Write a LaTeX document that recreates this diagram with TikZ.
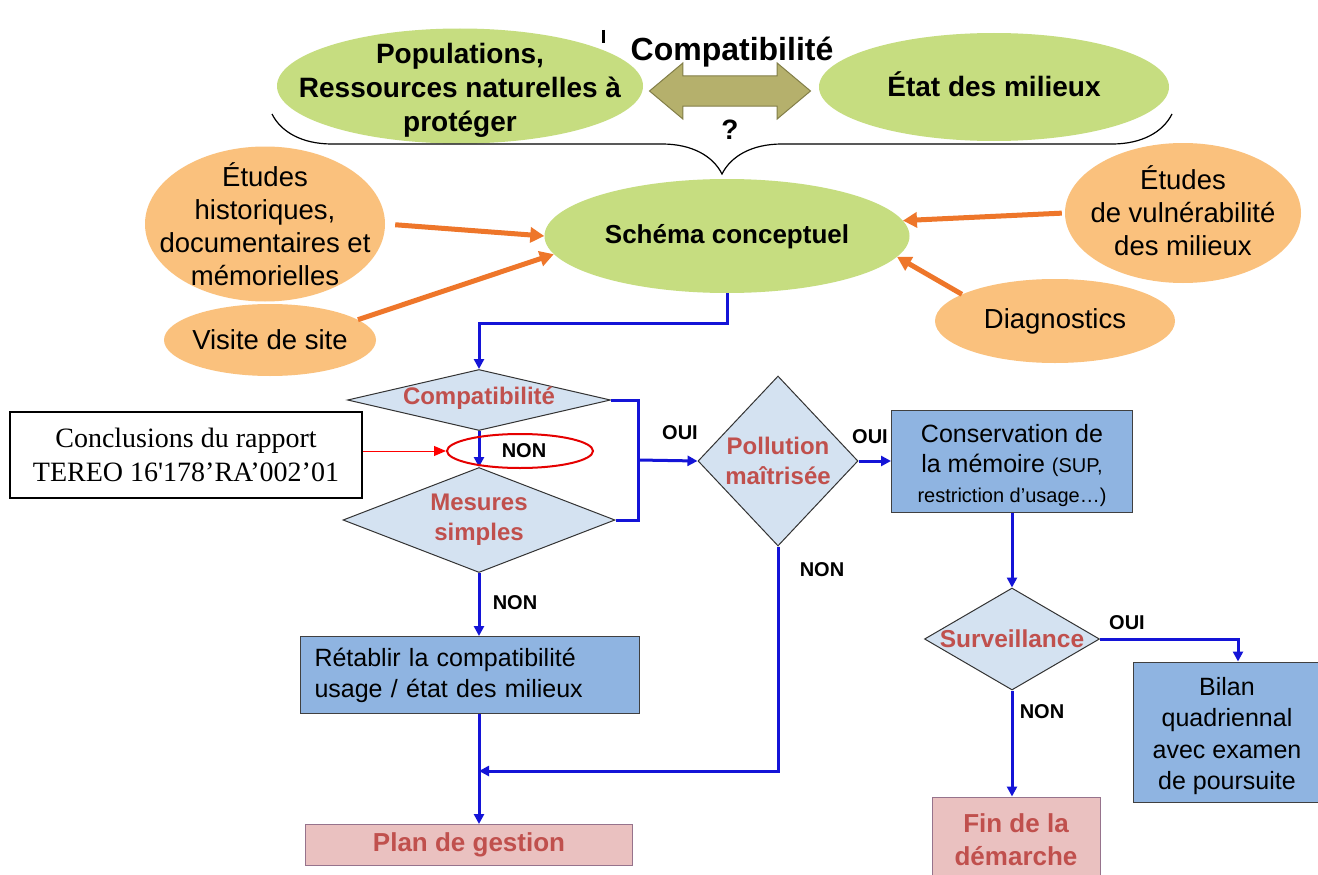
\documentclass[tikz,border=0pt]{standalone}
\usepackage{fontspec}
\setmainfont{Liberation Sans}
\newfontfamily\notefont{Liberation Serif}
\usetikzlibrary{shapes.geometric,shapes.arrows,arrows.meta,decorations.pathreplacing}

\definecolor{vertclair}{RGB}{198,221,128}
\definecolor{orangeclair}{RGB}{250,193,125}
\definecolor{orangefonce}{RGB}{238,118,42}
\definecolor{bleutrait}{RGB}{20,20,215}
\definecolor{bleuboite}{RGB}{143,180,225}
\definecolor{bleudiam}{RGB}{212,226,241}
\definecolor{roseboite}{RGB}{234,193,192}
\definecolor{bordrose}{RGB}{150,115,140}
\definecolor{rougetexte}{RGB}{192,80,77}
\definecolor{kaki}{RGB}{181,176,108}
\definecolor{kakifonce}{RGB}{130,126,72}

\begin{document}
\begin{tikzpicture}[x=1pt,y=-1pt,
  every node/.style={align=center, inner sep=0pt},
  vertell/.style={ellipse, fill=vertclair},
  vtexte/.style={font=\bfseries\fontsize{28}{34}\selectfont},
  orell/.style={ellipse, fill=orangeclair},
  otexte/.style={font=\fontsize{27.5}{33}\selectfont},
  decision/.style={diamond, draw=black!80, line width=1pt, fill=bleudiam},
  dtexte/.style={text=rougetexte, font=\bfseries\fontsize{24}{30}\selectfont},
  action/.style={rectangle, draw=black!75, line width=1pt, fill=bleuboite,
    font=\fontsize{25}{31}\selectfont},
  terme/.style={rectangle, draw=bordrose, line width=1pt, fill=roseboite,
    text=rougetexte, font=\bfseries\fontsize{26}{33}\selectfont},
  reponse/.style={font=\bfseries\fontsize{20}{24}\selectfont},
  flux/.style={draw=bleutrait, line width=3pt},
  fluxfl/.style={flux, -{Triangle[length=10pt,width=10pt]}},
  apport/.style={draw=orangefonce, line width=5pt, -{Triangle[length=14pt,width=15pt]}},
]
\path[fill=white, use as bounding box] (0,0) rectangle (1318,875);

% haut : compatibilite usages / milieux
\draw[line width=3pt] (603,30) -- (603,43);
\node[vertell, minimum width=366pt, minimum height=115pt] (popu) at (460,86) {};
\node[vtexte] (popu-t) at (460,90) {Populations,\\Ressources naturelles à\\protéger};
\node[vertell, minimum width=350pt, minimum height=108pt] (etat) at (994,87) {};
\node[vtexte] (etat-t) at (994,84) {État des milieux};
\node[double arrow, fill=kaki, draw=kakifonce, line width=1pt, inner ysep=14.5pt,
  minimum height=161pt, double arrow head extend=13pt,
  double arrow tip angle=80] (fleche) at (730,91) {};
\node[font=\bfseries\fontsize{32}{36}\selectfont] (compattxt) at (732,52) {Compatibilité};
\node[font=\bfseries\fontsize{28}{32}\selectfont] (question) at (730,130) {?};
\draw[line width=1.2pt, decorate, decoration={brace, amplitude=60pt, mirror}]
  (272,114) -- (1172,114);

% schema conceptuel et ses sources
\node[vertell, minimum width=365pt, minimum height=114pt] (schema) at (727,236) {};
\node[vtexte, font=\bfseries\fontsize{26}{30}\selectfont] (schema-t) at (727,237) {Schéma conceptuel};
\node[orell, minimum width=240pt, minimum height=155pt] (histo) at (265,224) {};
\node[otexte] (histo-t) at (histo) {Études\\historiques,\\documentaires et\\mémorielles};
\node[orell, minimum width=212pt, minimum height=72pt] (visite) at (270,340) {};
\node[otexte] (visite-t) at (visite) {Visite de site};
\node[orell, minimum width=236pt, minimum height=140pt] (vulner) at (1183,213) {};
\node[otexte] (vulner-t) at (1183,211) {Études\\de vulnérabilité\\des milieux};
\node[orell, minimum width=240pt, minimum height=84pt] (diag) at (1055,321) {};
\node[otexte] (diag-t) at (diag) {Diagnostics};

\draw[apport, shorten <=10pt] (histo.east) -- (schema.west);
\draw[apport] (visite.13) -- (schema.186);
\draw[apport, shorten <=3pt] (vulner.west) -- (schema.5);
\draw[apport] (diag.164) -- (schema.353);

% logigramme
\node[decision, minimum width=263pt, minimum height=61pt] (compat) at (479,400) {};
\node[dtexte] (compat-t) at (479,398) {Compatibilité};
\node[decision, minimum width=272pt, minimum height=105pt] (mesures) at (479,520) {};
\node[dtexte] (mesures-t) at (mesures) {Mesures\\simples};
\node[decision, minimum width=160pt, minimum height=170pt] (pollu) at (778,461) {};
\node[dtexte] (pollu-t) at (pollu) {Pollution\\maîtrisée};
\node[decision, minimum width=175pt, minimum height=102pt] (surv) at (1012,639) {};
\node[dtexte, font=\bfseries\fontsize{24.5}{30}\selectfont] (surv-t) at (surv) {Surveillance};
\node[action, minimum width=241pt, minimum height=102pt] (conserv) at (1012,461) {};
\node[font=\fontsize{25}{30}\selectfont] (conserv-t) at (1012,466)
  {Conservation de\\la mémoire {\fontsize{20}{24}\selectfont(SUP,}\\{\fontsize{20}{24}\selectfont restriction d’usage…)}};
\node[action, minimum width=185pt, minimum height=140pt] (bilan) at (1226,732) {};
\node[font=\fontsize{25}{31.5}\selectfont] (bilan-t) at (1227,736)
  {Bilan\\quadriennal\\avec examen\\de poursuite};
\node[terme, minimum width=168pt, minimum height=86pt] (findem) at (1016,840) {Fin de la\\démarche};
\node[action, minimum width=339pt, minimum height=77pt, text width=311pt, align=left]
  (retabl) at (470,675) {Rétablir la compatibilité\\usage / état des milieux};
\node[terme, minimum width=327pt, minimum height=41pt] (plan) at (469,845) {Plan de gestion};

\coordinate (oui1) at (638,460);
\coordinate (retour) at (479,771);

\draw[fluxfl] (schema.south) -- ++(0,30) -| (compat.north);
\draw[fluxfl] (compat.south) -- (mesures.north);
\draw[flux] (compat.east) -| (oui1) |- (mesures.east);
\draw[fluxfl] (oui1) -- (pollu.west);
\draw[fluxfl] (pollu.east) -- (conserv.west);
\draw[fluxfl] (conserv.south) -- (surv.north);
\draw[fluxfl] (surv.east) -| ([xshift=12pt]bilan.north);
\draw[fluxfl] (surv.south) -- (findem.north -| surv.south);
\draw[fluxfl] (mesures.south) -- (mesures.south |- retabl.north);
\draw[fluxfl] (mesures.south |- retabl.south) -- (mesures.south |- plan.north);
\draw[fluxfl] (pollu.south) |- (retour);

\node[reponse] (oui-a) at (680,433) {OUI};
\node[reponse] (oui-b) at (870,437) {OUI};
\node[reponse] (non-a) at (822,570) {NON};
\node[reponse] (non-b) at (515,603) {NON};
\node[reponse] (oui-c) at (1127,623) {OUI};
\node[reponse] (non-c) at (1042,712) {NON};

% renvoi vers le rapport
\node[ellipse, draw=red!90!black, line width=2pt,
  minimum width=146pt, minimum height=34pt] (anneau) at (520,451) {};
\node[reponse] (non-d) at (524,451) {NON};
\node[draw=black, line width=1.5pt, minimum width=352pt, minimum height=86pt,
  font=\notefont\fontsize{28}{34}\selectfont] (note) at (186,455)
  {Conclusions du rapport\\TEREO 16'178’RA’002’01};
\draw[red, line width=1pt, -{Triangle[length=12pt,width=10pt]}]
  (note.east |- anneau.west) -- (anneau.west);
\end{tikzpicture}
\end{document}
